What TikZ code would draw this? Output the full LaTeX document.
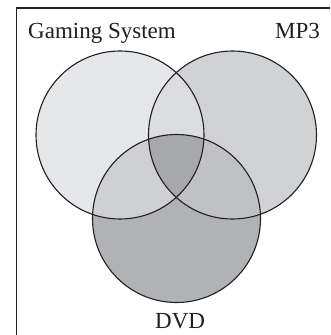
\documentclass[tikz,border=0pt]{standalone}
\usepackage{fontspec}
\setmainfont{Liberation Serif}
\definecolor{cG}{HTML}{E6E7E8}
\definecolor{cM}{HTML}{D1D2D4}
\definecolor{cD}{HTML}{B1B2B4}
\definecolor{cGM}{HTML}{DCDDDF}
\definecolor{cGD}{HTML}{CFD0D2}
\definecolor{cMD}{HTML}{C0C1C3}
\definecolor{cAll}{HTML}{A7A8AA}
\definecolor{ink}{HTML}{231F20}
\tikzset{
  outline/.style={draw=ink, line width=1.1pt},
  lbl/.style={font=\fontsize{23}{26}\selectfont, text=ink, inner sep=0pt, anchor=base west},
  frameline/.style={draw=ink, line width=1.1pt}
}
\begin{document}
\begin{tikzpicture}[x=1pt,y=-1pt]
\useasboundingbox (0,0) rectangle (330,335);
\fill[white] (0,0) rectangle (330,335);
\def\R{84}
\coordinate (g) at (120,135);
\coordinate (m) at (232.5,135);
\coordinate (d) at (176.5,218.5);
% single fills
\fill[cG] (g) circle (\R);
\fill[cM] (m) circle (\R);
\fill[cD] (d) circle (\R);
% pairwise
\begin{scope}
  \clip (g) circle (\R);
  \fill[cGM] (m) circle (\R);
  \fill[cGD] (d) circle (\R);
\end{scope}
\begin{scope}
  \clip (m) circle (\R);
  \fill[cMD] (d) circle (\R);
\end{scope}
\begin{scope}
  \clip (g) circle (\R);
  \clip (m) circle (\R);
  \fill[cAll] (d) circle (\R);
\end{scope}
% outlines
\draw[outline] (g) circle (\R);
\draw[outline] (m) circle (\R);
\draw[outline] (d) circle (\R);
% frame
\coordinate (f1) at (16.5,335);
\coordinate (f2) at (16.5,8);
\coordinate (f3) at (330,8);
\draw[frameline] (f1) -- (f2) -- (f3);
% labels
\node[lbl] (lg) at (28,38) {Gaming System};
\node[lbl] (lm) at (275,38) {MP3};
\node[lbl] (ld) at (155,328) {DVD};
\end{tikzpicture}
\end{document}
